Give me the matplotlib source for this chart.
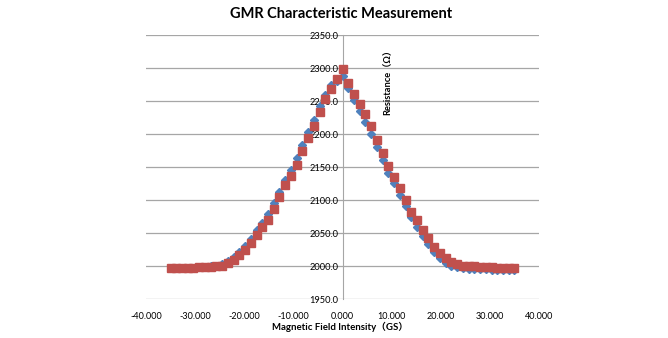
import matplotlib
matplotlib.use("Agg")
import matplotlib.pyplot as plt
import numpy as np

plt.rcParams['font.family'] = ['Lato', 'Noto Sans CJK SC', 'DejaVu Sans']

# field steps: 61 points from -35 to 35 GS
field = np.linspace(-35, 35, 61)

res_down = [1997, 1997, 1998, 1998, 1998, 1999, 1999, 2000,
            2001, 2003, 2008, 2014, 2022, 2031, 2042, 2055, 2066, 2079,
            2096, 2113, 2131, 2146, 2164, 2184, 2203, 2222, 2243, 2260,
            2275, 2280,
            2288,
            2270, 2252, 2236, 2219, 2201, 2181, 2161, 2142, 2126, 2108,
            2091, 2074, 2060, 2046, 2034, 2021, 2012, 2005, 2001, 1999,
            1997, 1996, 1996, 1996, 1996, 1995, 1995, 1995, 1995, 1995]

res_up = [1997, 1997, 1998, 1998, 1998, 1999, 1999, 1999,
          2000, 2001, 2005, 2010, 2017, 2025, 2035, 2048, 2059, 2070,
          2087, 2105, 2123, 2137, 2154, 2174, 2194, 2212, 2234, 2253,
          2268, 2284,
          2299,
          2277, 2261, 2246, 2230, 2213, 2192, 2171, 2152, 2135, 2118,
          2101, 2083, 2070, 2055, 2043, 2029, 2020, 2012, 2007, 2004,
          2001, 2000, 2000, 1999, 1999, 1999, 1998, 1998, 1998, 1998]

x_ticks = [-40, -30, -20, -10, 0, 10, 20, 30, 40]
y_ticks = [1950, 2000, 2050, 2100, 2150, 2200, 2250, 2300, 2350]

fig = plt.figure(figsize=(6.68, 3.38), dpi=100)
ax = fig.add_axes([146 / 668, 1 - 299.3 / 338, 393 / 668, 264 / 338])

# spine position first: moving it resets the tick labels
for s in ['top', 'right', 'bottom']:
    ax.spines[s].set_visible(False)
ax.spines['left'].set_position(('data', 0))
ax.spines['left'].set_color('#A6A6A6')

ax.plot(field, res_down, linestyle='none', marker='D', markersize=3.6,
        color='#4F81BD', zorder=3)
ax.plot(field, res_up, linestyle='none', marker='s', markersize=5.6,
        color='#C0504D', zorder=4)

ax.set_xlim(-40, 40)
ax.set_ylim(1950, 2350)
ax.set_xticks(x_ticks)
ax.set_yticks(y_ticks)
ax.set_xticklabels(['%.3f' % v for v in x_ticks])
ax.set_yticklabels(['%.1f' % v for v in y_ticks])
ax.tick_params(axis='y', length=0, pad=3, labelsize=6.7)
ax.tick_params(axis='x', length=0, pad=9, labelsize=6.5)
ax.grid(axis='y', color='#A6A6A6', linewidth=0.9)
ax.set_axisbelow(True)

fig.text(341 / 668, 1 - 14 / 338, 'GMR Characteristic Measurement',
         ha='center', va='center', fontsize=10.5, fontweight='bold')
fig.text(340 / 668, 1 - 327 / 338, 'Magnetic Field Intensity（GS）',
         ha='center', va='center', fontsize=6.9, fontweight='bold')
fig.text(388 / 668, 1 - 80 / 338, 'Resistance（Ω）', rotation=90,
         ha='center', va='center', fontsize=6.7, fontweight='bold')

fig.savefig('out.png', dpi=100)
